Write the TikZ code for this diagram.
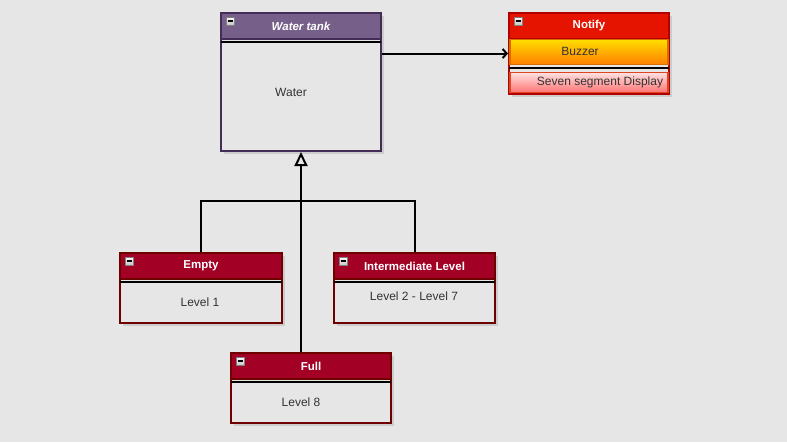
\documentclass[tikz,border=0pt]{standalone}
\usepackage{fontspec}
\setmainfont{Liberation Sans}
\usetikzlibrary{positioning,arrows.meta,shadows}
\definecolor{canvas}{HTML}{E6E6E6}
\definecolor{tankline}{HTML}{432D57}
\definecolor{tankfill}{HTML}{76608A}
\definecolor{lvlline}{HTML}{6F0000}
\definecolor{lvlfill}{HTML}{A20025}
\definecolor{notline}{HTML}{B20000}
\definecolor{notfill}{HTML}{E51400}

\begin{document}
\begin{tikzpicture}[x = 1pt, y = -1pt,
    every node/.style = { font = \fontsize{12}{14}\selectfont, text = black!80 },
    cls/.style = { draw, fill = canvas, line width = 2pt, anchor = north west, inner sep = 0pt,
                   drop shadow={shadow xshift=2.5pt,shadow yshift=-2.5pt,opacity=.25} },
    head/.style = { draw, line width = 2pt, anchor = north, minimum height = 26pt, inner sep = 0pt,
                    text = white, font = \bfseries\fontsize{11.5}{13}\selectfont },
    icon/.style = { draw = gray, top color = white, bottom color = gray!45, inner sep = 0pt,
                    minimum size = 8pt, path picture = { \draw [line width = 1.2pt, black]
                    ([xshift = -2.5pt]path picture bounding box.center) --
                    ([xshift = 2.5pt]path picture bounding box.center); } },
    sep/.style = { line width = 2pt, black },
    link/.style = { line width = 2pt, black },
    inh/.style = { link, -{Triangle[open, length = 14pt, width = 13pt]} }
  ]
  \useasboundingbox (0,0) rectangle (787,442);
  \fill [canvas] (0,0) rectangle (787,442);

  % water tank
  \node [cls, draw = tankline, minimum width = 160pt, minimum height = 138pt] (tank) at (220,12) {};
  \node [head, draw = tankline, fill = tankfill, minimum width = 160pt,
         font = \bfseries\itshape\fontsize{11.5}{13}\selectfont] (tankhead) at (tank.north) {Water tank};
  \node [icon] (tankicon) at ([xshift = 10pt, yshift = -9pt]tank.north west) {};
  \draw [sep] ([xshift = 1pt, yshift = -30pt]tank.north west) -- ([xshift = -1pt, yshift = -30pt]tank.north east);
  \node (water) at (291,92) {Water};

  % notify
  \node [cls, draw = notline, minimum width = 160pt, minimum height = 81pt] (notify) at (508,12) {};
  \node [head, draw = notline, fill = notfill, minimum width = 160pt] (notifyhead) at (notify.north) {Notify};
  \node [icon] (notifyicon) at ([xshift = 10pt, yshift = -9pt]notify.north west) {};
  \node [draw = orange!85!black, line width = 1.2pt, top color = yellow!75!orange, bottom color = orange,
         minimum width = 158pt, minimum height = 25pt, inner sep = 0pt, anchor = north]
         (buzzer) at ([yshift = -26.5pt]notify.north) {};
  \node (buzzertxt) at (580,51) {Buzzer};
  \draw [sep] ([xshift = 1pt, yshift = -56pt]notify.north west) -- ([xshift = -1pt, yshift = -56pt]notify.north east);
  \node [draw = red!45!brown, line width = 1.2pt, top color = red!12, bottom color = red!55!white,
         minimum width = 158pt, minimum height = 20pt, inner sep = 0pt, anchor = north]
         (seven) at ([yshift = -60pt]notify.north) {};
  \node (seventxt) at (600,82) {Seven segment Display};

  % levels
  \node [cls, draw = lvlline, minimum width = 162pt, minimum height = 70pt] (empty) at (119,252) {};
  \node [head, draw = lvlline, fill = lvlfill, minimum width = 162pt] (emptyhead) at (empty.north) {Empty};
  \node [icon] (emptyicon) at ([xshift = 10pt, yshift = -9pt]empty.north west) {};
  \draw [sep] ([xshift = 1pt, yshift = -30pt]empty.north west) -- ([xshift = -1pt, yshift = -30pt]empty.north east);
  \node (emptytxt) at (200,302) {Level 1};

  \node [cls, draw = lvlline, minimum width = 161pt, minimum height = 70pt] (mid) at (333,252) {};
  \node [head, draw = lvlline, fill = lvlfill, minimum width = 161pt] (midhead) at (mid.north) {Intermediate Level};
  \node [icon] (midicon) at ([xshift = 10pt, yshift = -9pt]mid.north west) {};
  \draw [sep] ([xshift = 1pt, yshift = -30pt]mid.north west) -- ([xshift = -1pt, yshift = -30pt]mid.north east);
  \node (midtxt) at (414,296) {Level 2 - Level 7};

  \node [cls, draw = lvlline, minimum width = 160pt, minimum height = 70pt] (full) at (230,352) {};
  \node [head, draw = lvlline, fill = lvlfill, minimum width = 160pt] (fullhead) at (full.north) {Full};
  \node [icon] (fullicon) at ([xshift = 10pt, yshift = -9pt]full.north west) {};
  \draw [sep] ([xshift = 1pt, yshift = -30pt]full.north west) -- ([xshift = -1pt, yshift = -30pt]full.north east);
  \node (fulltxt) at (301,402) {Level 8};

  % connectors
  \coordinate (join) at (300,201);
  \draw [link] (empty.north) |- (join);
  \draw [link] (mid.north) |- (join);
  \draw [inh] (full.north -| tank.south) -- (tank.south);
  \draw [link, -{Straight Barb[length = 4pt, width = 9pt]}] (tank.east |- notify.west) -- (notify.west);
\end{tikzpicture}
\end{document}
